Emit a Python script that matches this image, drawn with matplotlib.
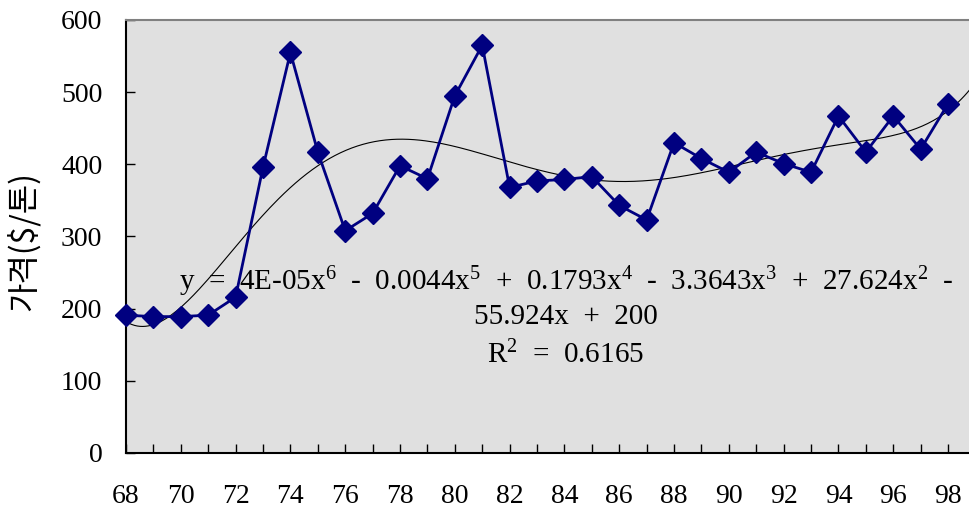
import numpy as np
import matplotlib
matplotlib.use("Agg")
import matplotlib.pyplot as plt

years = list(range(68, 99))
prices = [191, 189, 189, 191, 216, 396, 555, 417, 308, 332, 398, 380, 495, 565,
          368, 377, 379, 383, 343, 323, 430, 408, 389, 417, 401, 389, 467, 417,
          467, 421, 484]
ylabel_text = "가격($/톤)"
eq_lines = ["y  =  4E-05x$^{6}$  -  0.0044x$^{5}$  +  0.1793x$^{4}$  -  3.3643x$^{3}$  +  27.624x$^{2}$  -",
            "55.924x  +  200",
            "R$^{2}$  =  0.6165"]

plt.rcParams['mathtext.fontset'] = 'custom'
plt.rcParams['mathtext.rm'] = 'Liberation Serif'
plt.rcParams['mathtext.it'] = 'Liberation Serif'
serif = ['Liberation Serif', 'DejaVu Serif']

fig = plt.figure(figsize=(9.70, 5.08), dpi=100)
ax = fig.add_axes([126/970, 55/508, 1 - 126/970, 433/508])
ax.set_facecolor('#e0e0e0')

x = np.array(years, dtype=float)
y = np.array(prices, dtype=float)
idx = x - x[0] + 1
coef = np.polyfit(idx, y, 6)
xs = np.linspace(68, 98.8, 300)
ax.plot(xs, np.polyval(coef, xs - x[0] + 1), color='black', lw=0.8, zorder=2)

ax.plot(x, y, color='#000080', lw=2, marker='D', markersize=11,
        markerfacecolor='#000080', markeredgecolor='#000080', zorder=3, clip_on=False)

ax.set_xlim(68, 98.8)
ax.set_ylim(0, 600)
ax.set_xticks(range(68, 99, 2))
ax.set_xticks(range(68, 99), minor=True)
ax.set_yticks(range(0, 601, 100))
ax.tick_params(axis='both', which='both', direction='in', length=6.5, width=1, color='black')
ax.tick_params(axis='x', which='major', pad=22)
ax.tick_params(axis='y', which='major', pad=17)
for lab in ax.get_xticklabels() + ax.get_yticklabels():
    lab.set_fontfamily(serif)
    lab.set_fontsize(20)

ax.spines['left'].set_color('black')
ax.spines['bottom'].set_color('black')
ax.spines['left'].set_linewidth(1.5)
ax.spines['bottom'].set_linewidth(1.5)
ax.spines['top'].set_color('#808080')
ax.spines['top'].set_linewidth(1.5)
ax.spines['right'].set_visible(False)

fig.text(23/970, 1 - 241/508, ylabel_text, rotation=90, ha='center', va='center',
         fontsize=23, family=['Noto Sans CJK KR', 'DejaVu Sans'])

ys_px = [282, 317, 355]
for line, yp in zip(eq_lines, ys_px):
    fig.text(566/970, 1 - yp/508, line, ha='center', va='center', fontsize=21,
             family=serif)

fig.savefig('out.png', dpi=100)
